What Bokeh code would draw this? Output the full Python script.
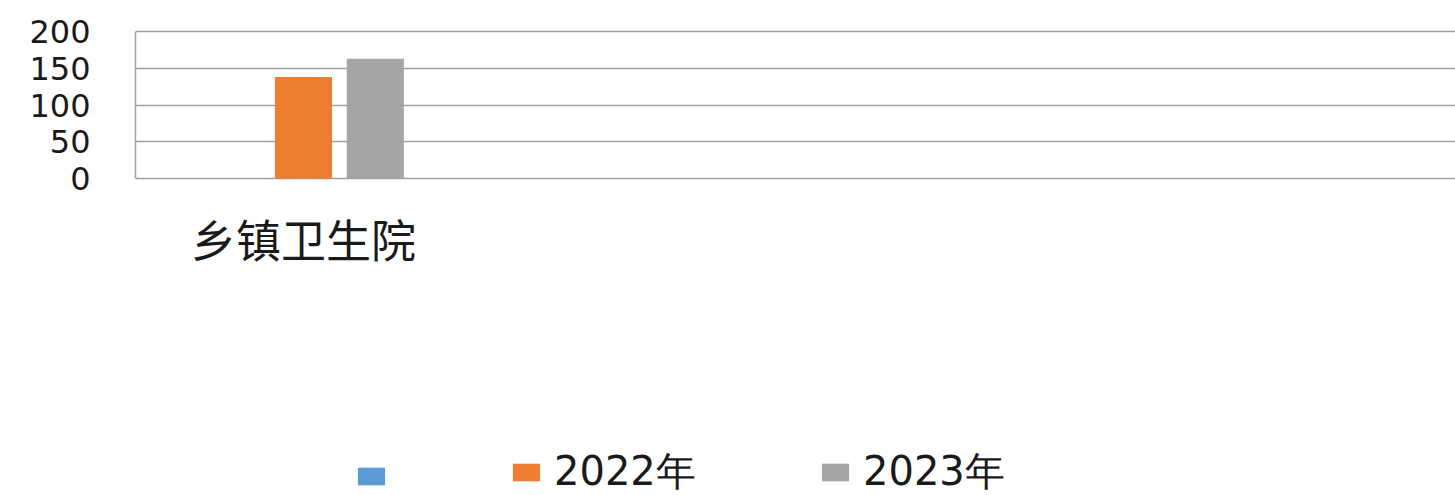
from bokeh.plotting import figure
from bokeh.models import ColumnDataSource, FixedTicker, Legend, LegendItem
from bokeh.core.properties import value
from bokeh.transform import dodge
from bokeh.embed import file_html
from bokeh.resources import INLINE

categories = ["乡镇卫生院"]
series_names = ["\u00a0", "2022年", "2023年"]
values_blank = [float("nan")]
values_2022 = [138]
values_2023 = [163]
y_ticks = [0, 50, 100, 150, 200]

colors = ["#5B9BD5", "#ED7D31", "#A5A5A5"]
n_slots = 3.93  # visible category slots across the plot width

# layout (pixels): 200 at y=31, value axis 0 at y=178, frame top 29, figure bottom 495
FRAME_TOP, TOP, ZERO, BOTTOM = 29, 31, 178, 495
y_max = 200
px_per_unit = (ZERO - TOP) / y_max
y_end = y_max + (TOP - FRAME_TOP) / px_per_unit
y_start = -(BOTTOM - ZERO) / px_per_unit

xpos = [i + 0.5 for i in range(len(categories))]
src = ColumnDataSource(dict(x=xpos, y0=[0] * len(categories), cat=categories,
                            s0=values_blank, s1=values_2022, s2=values_2023))

p = figure(width=1455, height=495, x_range=(0, n_slots), y_range=(y_start, y_end),
           output_backend="svg", toolbar_location=None, x_axis_location=None,
           min_border_left=135, min_border_right=0, min_border_top=FRAME_TOP, min_border_bottom=0)
p.outline_line_color = None
p.background_fill_color = "white"

offsets = [-0.214, 0.0, 0.214]
renderers = []
for col, off, c in zip(["s0", "s1", "s2"], offsets, colors):
    r = p.vbar(x=dodge("x", off), top=col, bottom=0, width=0.17, source=src,
               fill_color=c, line_color=None)
    renderers.append(r)

# category labels under the value-axis baseline
p.text(x="x", y="y0", text="cat", source=src, y_offset=60,
       text_align="center", text_baseline="middle",
       text_font=value("Noto Sans CJK SC"), text_font_size="45px", text_color="#1a1a1a")

# value axis
p.yaxis.ticker = FixedTicker(ticks=y_ticks)
p.yaxis.bounds = (0, y_max)
p.yaxis.major_label_text_font = "DejaVu Sans"
p.yaxis.major_label_text_font_size = "32px"
p.yaxis.major_label_text_color = "#1a1a1a"
p.yaxis.major_tick_line_color = None
p.yaxis.minor_tick_line_color = None
p.yaxis.axis_line_color = "#A0A0A0"
p.yaxis.axis_line_width = 1.5
p.yaxis.major_label_standoff = 39

p.xgrid.grid_line_color = None
p.ygrid.ticker = FixedTicker(ticks=y_ticks)
p.ygrid.grid_line_color = "#A0A0A0"
p.ygrid.grid_line_width = 1.5

# legend: one small legend per series, placed under the chart
legend_x = [219, 374, 683]
for name, r, lx in zip(series_names, renderers, legend_x):
    lg = Legend(items=[LegendItem(label=name, renderers=[r])],
                location=(lx, -4), orientation="horizontal",
                glyph_width=34, glyph_height=22, label_standoff=11,
                padding=0, margin=0, spacing=0,
                border_line_color=None, background_fill_alpha=0,
                label_text_font="DejaVu Sans",
                label_text_font_size="40px", label_text_color="#1a1a1a")
    p.add_layout(lg, "center")

open("out.html", "w").write(file_html(p, INLINE))
